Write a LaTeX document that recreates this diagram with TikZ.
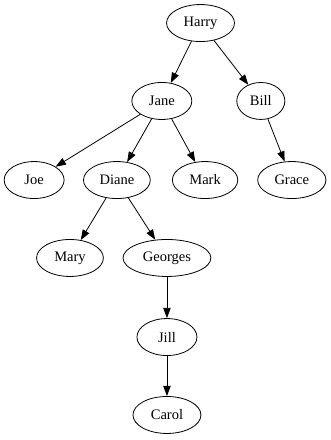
\documentclass[tikz,border=0pt]{standalone}
\usepackage{fontspec}
\setmainfont{Liberation Serif}
\usetikzlibrary{arrows.meta, shapes.geometric}

\begin{document}
\begin{tikzpicture}[
    >={Triangle[length=3.6mm, width=2.6mm]},
    every node/.style={text=black, font=\fontsize{14.5}{17}\selectfont},
    person/.style={ellipse, draw=black, line width=0.8pt,
                   minimum width=2.11cm, minimum height=1.3cm, inner sep=1pt},
  ]

  % Canvas
  \useasboundingbox (0,0) rectangle (11.63,-15.47);

  % Nodes
  \node[person, minimum width=2.39cm] (harry) at (7.05,-0.81) {Harry};
  \node[person] (jane) at (5.69,-3.55) {Jane};
  \node[person, minimum width=1.69cm] (bill) at (9.17,-3.55) {Bill};
  \node[person] (joe) at (1.20,-6.33) {Joe};
  \node[person, minimum width=2.35cm] (diane) at (4.11,-6.33) {Diane};
  \node[person, minimum width=2.3cm] (mark) at (7.21,-6.33) {Mark};
  \node[person, minimum width=2.4cm] (grace) at (10.26,-6.33) {Grace};
  \node[person, minimum width=2.35cm] (mary) at (2.46,-9.07) {Mary};
  \node[person, minimum width=3.09cm] (georges) at (5.87,-9.07) {Georges};
  \node[person] (jill) at (5.87,-11.85) {Jill};
  \node[person, minimum width=2.39cm] (carol) at (5.87,-14.59) {Carol};

  % Edge style
  \tikzset{
    childedge/.style={->, line width=0.8pt, black},
  }

  % Harry's children
  \draw[childedge] (harry) -- (jane);
  \draw[childedge] (harry) -- (bill);

  % Jane's children
  \draw[childedge] (jane) -- (joe);
  \draw[childedge] (jane) -- (diane);
  \draw[childedge] (jane) -- (mark);

  % Bill's child
  \draw[childedge] (bill) -- (grace);

  % Diane's children
  \draw[childedge] (diane) -- (mary);
  \draw[childedge] (diane) -- (georges);

  % Down the line
  \draw[childedge] (georges) -- (jill);
  \draw[childedge] (jill) -- (carol);

\end{tikzpicture}
\end{document}
